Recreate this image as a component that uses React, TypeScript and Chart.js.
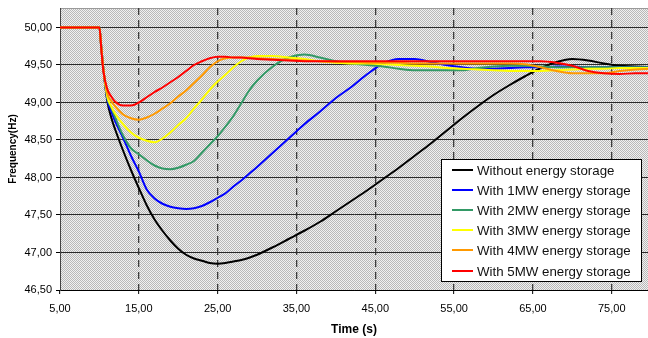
import React, { useEffect, useRef } from "react";
import { Chart, registerables } from "chart.js";

Chart.register(...registerables);

// ---- data ----
const times = [5, 10, 10.25, 10.5, 11, 11.5, 12, 13, 14, 15, 16, 17, 18, 19, 20, 21, 22, 23, 24, 25, 26, 27, 28, 29, 30,
  32, 34, 36, 38, 40, 42, 44, 46, 48, 50, 52, 54, 56, 58, 60, 62, 64, 66, 68, 70, 72, 74, 76, 78, 80];

const seriesLabels = [
  "Without energy storage",
  "With 1MW energy storage",
  "With 2MW energy storage",
  "With 3MW energy storage",
  "With 4MW energy storage",
  "With 5MW energy storage",
];

const withoutStorage = [50, 50, 49.72, 49.45, 49.02, 48.8, 48.64, 48.36, 48.1, 47.86, 47.63, 47.44, 47.29, 47.16, 47.05, 46.97, 46.92, 46.89, 46.86, 46.85, 46.86, 46.88, 46.9, 46.93, 46.97,
  47.07, 47.18, 47.29, 47.41, 47.55, 47.69, 47.83, 47.98, 48.13, 48.29, 48.45, 48.62, 48.79, 48.95, 49.1, 49.23, 49.35, 49.46, 49.54, 49.58, 49.56, 49.52, 49.49, 49.48, 49.47];

const with1MW = [50, 50, 49.72, 49.45, 49.04, 48.88, 48.75, 48.53, 48.29, 48.08, 47.84, 47.72, 47.65, 47.61, 47.59, 47.58, 47.59, 47.62, 47.67, 47.73, 47.79, 47.88, 47.96, 48.05, 48.14,
  48.33, 48.52, 48.71, 48.88, 49.06, 49.21, 49.38, 49.52, 49.58, 49.58, 49.54, 49.5, 49.47, 49.45, 49.45, 49.46, 49.47, 49.47, 49.48, 49.48, 49.47, 49.47, 49.47, 49.47, 49.47];

const with2MW = [50, 50, 49.72, 49.45, 49.06, 48.93, 48.8, 48.56, 48.39, 48.31, 48.23, 48.16, 48.12, 48.11, 48.13, 48.17, 48.22, 48.33, 48.44, 48.55, 48.68, 48.82, 48.99, 49.16, 49.29,
  49.48, 49.6, 49.64, 49.6, 49.55, 49.52, 49.5, 49.48, 49.45, 49.43, 49.43, 49.43, 49.43, 49.46, 49.48, 49.49, 49.49, 49.48, 49.47, 49.47, 49.47, 49.47, 49.47, 49.47, 49.47];

const with3MW = [50, 50, 49.72, 49.45, 49.08, 48.95, 48.85, 48.71, 48.6, 48.53, 48.49, 48.47, 48.52, 48.6, 48.7, 48.79, 48.92, 49.04, 49.17, 49.28, 49.37, 49.47, 49.55, 49.6, 49.62,
  49.62, 49.6, 49.58, 49.55, 49.53, 49.52, 49.52, 49.51, 49.5, 49.49, 49.48, 49.46, 49.45, 49.44, 49.43, 49.42, 49.42, 49.42, 49.43, 49.44, 49.45, 49.45, 49.46, 49.46, 49.46];

const with4MW = [50, 50, 49.72, 49.45, 49.12, 49.02, 48.95, 48.84, 48.79, 48.77, 48.8, 48.85, 48.92, 48.99, 49.08, 49.16, 49.26, 49.36, 49.47, 49.55, 49.59, 49.6, 49.6, 49.6, 49.59,
  49.58, 49.57, 49.56, 49.55, 49.54, 49.54, 49.53, 49.53, 49.53, 49.52, 49.52, 49.52, 49.52, 49.52, 49.52, 49.52, 49.51, 49.47, 49.42, 49.39, 49.39, 49.39, 49.42, 49.44, 49.45];

const with5MW = [50, 50, 49.7, 49.42, 49.18, 49.08, 49.01, 48.96, 48.96, 49.0, 49.07, 49.14, 49.2, 49.27, 49.34, 49.42, 49.5, 49.55, 49.59, 49.61, 49.61, 49.6, 49.6, 49.59, 49.58,
  49.57, 49.56, 49.55, 49.55, 49.55, 49.55, 49.55, 49.55, 49.55, 49.55, 49.55, 49.55, 49.55, 49.55, 49.55, 49.55, 49.55, 49.55, 49.53, 49.49, 49.42, 49.39, 49.38, 49.39, 49.39];

const seriesValues = [withoutStorage, with1MW, with2MW, with3MW, with4MW, with5MW];
const seriesColors = ["#000000", "#0000ff", "#339966", "#ffff00", "#ff9900", "#ff0000"];

const xTickValues = [5, 15, 25, 35, 45, 55, 65, 75];
const yTickValues = [46.5, 47, 47.5, 48, 48.5, 49, 49.5, 50];

const FONT = '"Liberation Sans", Arial, sans-serif';
const fmt = (v: number) => Number(v).toFixed(2).replace(".", ",");

function makePattern(ctx: CanvasRenderingContext2D) {
  const c = document.createElement("canvas");
  c.width = 2;
  c.height = 2;
  const p = c.getContext("2d")!;
  p.fillStyle = "#f0f0f0";
  p.fillRect(0, 0, 2, 2);
  p.fillStyle = "#b8b8b8";
  p.fillRect(0, 0, 1, 1);
  p.fillRect(1, 1, 1, 1);
  return ctx.createPattern(c, "repeat");
}

const backgroundPlugin = {
  id: "bgPattern",
  beforeDraw(chart: any) {
    const { ctx, chartArea } = chart;
    const { left, top, right, bottom } = chartArea;
    ctx.save();
    ctx.fillStyle = makePattern(ctx) || "#d8d8d8";
    ctx.fillRect(left, top, right - left, bottom - top);
    ctx.strokeStyle = "#9a9a9a";
    ctx.lineWidth = 1;
    ctx.beginPath();
    ctx.moveTo(left, top + 0.5);
    ctx.lineTo(right, top + 0.5);
    ctx.stroke();
    ctx.restore();
  },
};

const legendPlugin = {
  id: "boxLegend",
  afterDraw(chart: any) {
    const { ctx } = chart;
    ctx.save();
    const bx = 441, by = 159, bw = 200, bh = 122;
    ctx.fillStyle = "#ffffff";
    ctx.fillRect(bx, by, bw, bh);
    ctx.strokeStyle = "#000000";
    ctx.lineWidth = 1;
    ctx.strokeRect(bx + 0.5, by + 0.5, bw, bh);
    ctx.font = `13.3px ${FONT}`;
    ctx.textBaseline = "middle";
    ctx.textAlign = "left";
    chart.data.datasets.forEach((ds: any, i: number) => {
      const y = 170 + i * 20.1;
      ctx.strokeStyle = ds.borderColor;
      ctx.lineWidth = 2;
      ctx.beginPath();
      ctx.moveTo(452, Math.round(y));
      ctx.lineTo(473, Math.round(y));
      ctx.stroke();
      ctx.fillStyle = "#111111";
      ctx.fillText(ds.label, 477, Math.round(y) + 1);
    });
    ctx.restore();
  },
};

export default function App() {
  const canvasRef = useRef<HTMLCanvasElement | null>(null);

  useEffect(() => {
    if (!canvasRef.current) return;
    const datasets = seriesLabels.map((label, i) => ({
      label,
      data: times.map((t, j) => ({ x: t, y: seriesValues[i][j] })),
      borderColor: seriesColors[i],
      backgroundColor: seriesColors[i],
      borderWidth: 2,
      pointRadius: 0,
      fill: false,
      cubicInterpolationMode: "monotone" as const,
      order: seriesLabels.length - 1 - i,
    }));

    const chart = new Chart(canvasRef.current, {
      type: "line",
      data: { datasets },
      options: {
        animation: false,
        responsive: false,
        maintainAspectRatio: false,
        layout: { padding: { top: 8, left: 0, right: 0, bottom: 0 } },
        plugins: {
          legend: { display: false },
          tooltip: { enabled: false },
        },
        scales: {
          x: {
            type: "linear",
            min: 5,
            max: 79.6,
            afterBuildTicks: (s: any) => {
              s.ticks = xTickValues.map((v) => ({ value: v }));
            },
            afterFit: (s: any) => {
              s.height = 48;
              s.paddingLeft = 0;
              s.paddingRight = 0;
            },
            ticks: {
              callback: (v: any) => fmt(v),
              font: { family: FONT, size: 11 },
              color: "#000",
              padding: 8,
              maxRotation: 0,
              autoSkip: false,
            },
            grid: {
              color: (c: any) => (c.tick && c.tick.value === 5 ? "rgba(0,0,0,0)" : "#3c3c3c"),
              lineWidth: 1.3,
              tickLength: 4,
              tickColor: "#000",
              tickWidth: 1,
            },
            border: { display: true, color: "#000", width: 1, dash: [7, 5] },
            title: {
              display: true,
              text: "Time (s)",
              color: "#000",
              font: { family: FONT, size: 12, weight: "bold" },
              padding: { top: 0, bottom: 1 },
            },
          },
          y: {
            type: "linear",
            min: 46.5,
            max: 50.26,
            afterBuildTicks: (s: any) => {
              s.ticks = yTickValues.map((v) => ({ value: v }));
            },
            afterFit: (s: any) => {
              s.width = 60;
              s.paddingTop = 0;
              s.paddingBottom = 0;
            },
            ticks: {
              callback: (v: any) => fmt(v),
              font: { family: FONT, size: 11 },
              color: "#000",
              padding: 4,
            },
            grid: {
              color: "#2a2a2a",
              lineWidth: 1,
              tickLength: 4,
              tickColor: "#000",
            },
            border: { display: true, color: "#444", width: 1 },
            title: {
              display: true,
              text: "Frequency(Hz)",
              color: "#000",
              font: { family: FONT, size: 10, weight: "bold" },
              padding: { top: 7, bottom: 0 },
            },
          },
        },
      },
      plugins: [backgroundPlugin, legendPlugin],
    });
    return () => chart.destroy();
  }, []);

  return (
    <div style={{ position: "absolute", left: 0, top: 0, width: 648, height: 338, background: "#fff" }}>
      <canvas ref={canvasRef} width={648} height={338} style={{ display: "block", width: 648, height: 338 }} />
    </div>
  );
}
